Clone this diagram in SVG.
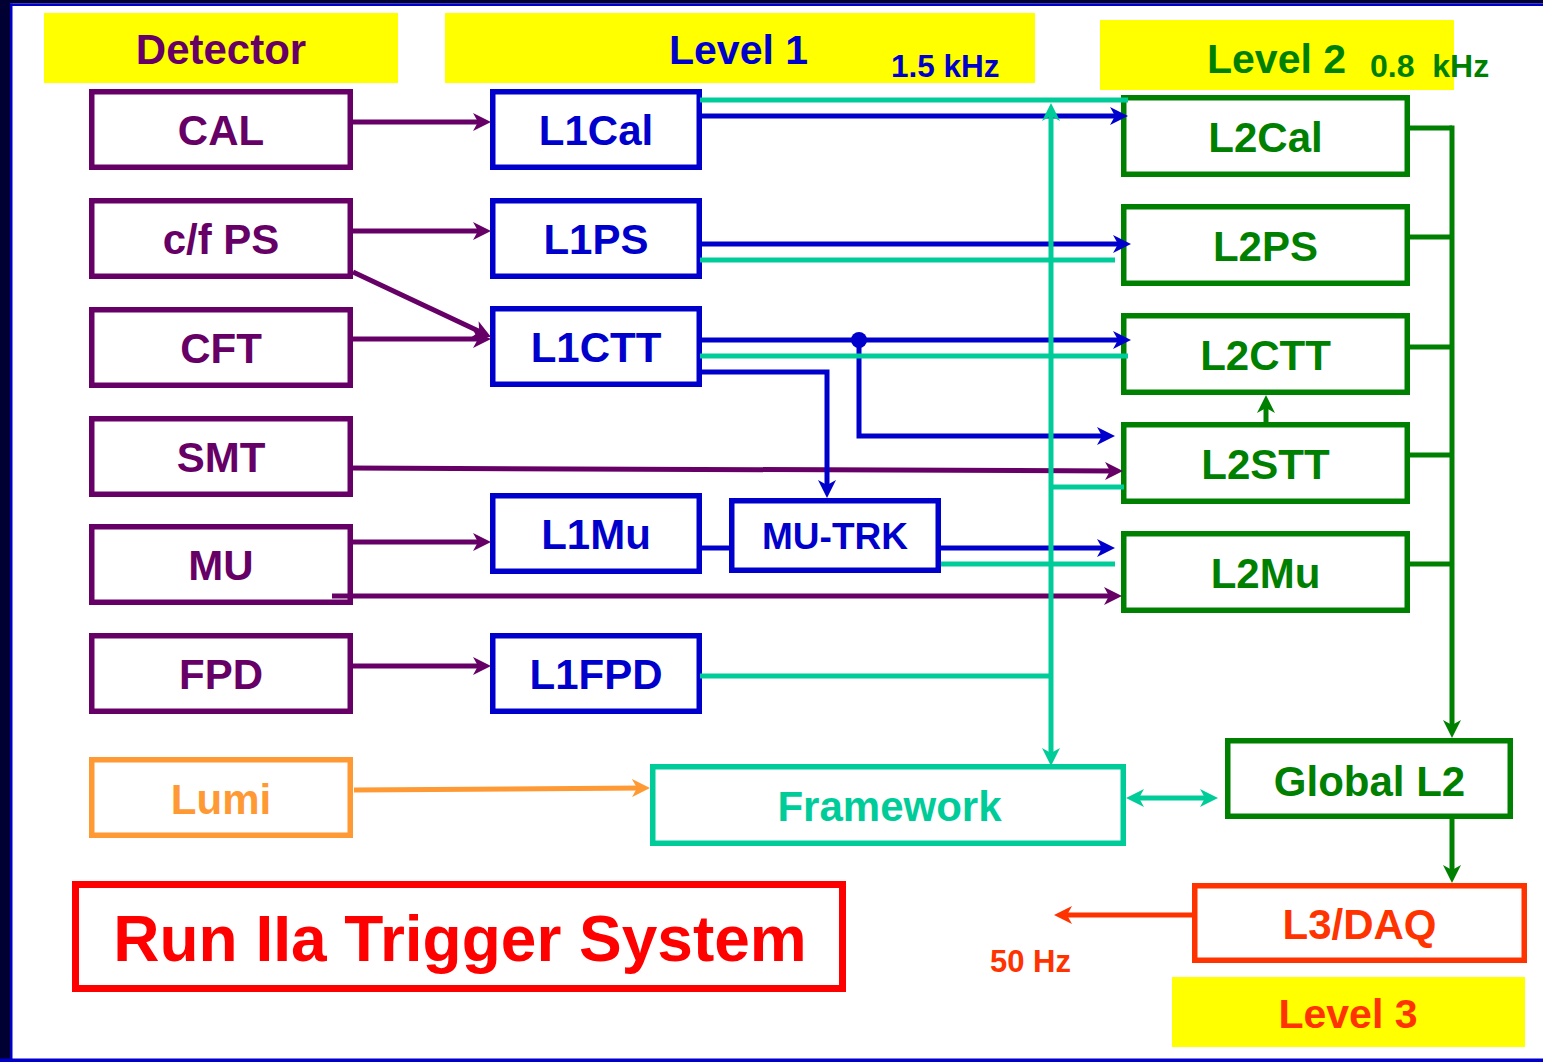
<svg xmlns="http://www.w3.org/2000/svg" width="1543" height="1062" viewBox="0 0 1543 1062">
  <style>
    text { font-family: "Liberation Sans", Arial, sans-serif; font-weight: bold; }
    .node rect { fill: #ffffff; stroke-width: 5.5; }
    .lbl { font-size: 42px; text-anchor: middle; }
    .det rect { stroke: #660066; } .det text { fill: #660066; }
    .l1 rect { stroke: #0000cc; } .l1 text { fill: #0000cc; }
    .l2 rect { stroke: #008000; } .l2 text { fill: #008000; }
    .fw rect { stroke: #00cc99; } .fw text { fill: #00cc99; }
    .lumi rect { stroke: #ff9933; } .lumi text { fill: #ff9933; }
    .l3 rect { stroke: #ff3300; } .l3 text { fill: #ff3300; }
    .band { fill: #ffff00; }
    .conn path { fill: none; stroke-width: 5; }
    .p { stroke: #660066; } .b { stroke: #0000cc; } .c { stroke: #00cc99; }
    .g { stroke: #008000; } .o { stroke: #ff9933; } .r { stroke: #ff3300; }
  </style>
  <defs>
    <marker id="ap" viewBox="0 0 18 18" refX="10" refY="9" markerWidth="18" markerHeight="18" markerUnits="userSpaceOnUse" orient="auto-start-reverse"><path d="M0,0 L18,9 L0,18 L5,9 Z" fill="#660066"/></marker>
    <marker id="ab" viewBox="0 0 18 18" refX="10" refY="9" markerWidth="18" markerHeight="18" markerUnits="userSpaceOnUse" orient="auto-start-reverse"><path d="M0,0 L18,9 L0,18 L5,9 Z" fill="#0000cc"/></marker>
    <marker id="ac" viewBox="0 0 18 18" refX="10" refY="9" markerWidth="18" markerHeight="18" markerUnits="userSpaceOnUse" orient="auto-start-reverse"><path d="M0,0 L18,9 L0,18 L5,9 Z" fill="#00cc99"/></marker>
    <marker id="ag" viewBox="0 0 18 18" refX="10" refY="9" markerWidth="18" markerHeight="18" markerUnits="userSpaceOnUse" orient="auto-start-reverse"><path d="M0,0 L18,9 L0,18 L5,9 Z" fill="#008000"/></marker>
    <marker id="ao" viewBox="0 0 18 18" refX="10" refY="9" markerWidth="18" markerHeight="18" markerUnits="userSpaceOnUse" orient="auto-start-reverse"><path d="M0,0 L18,9 L0,18 L5,9 Z" fill="#ff9933"/></marker>
    <marker id="ar" viewBox="0 0 18 18" refX="10" refY="9" markerWidth="18" markerHeight="18" markerUnits="userSpaceOnUse" orient="auto-start-reverse"><path d="M0,0 L18,9 L0,18 L5,9 Z" fill="#ff3300"/></marker>
  </defs>

  <!-- page and frame -->
  <rect x="0" y="0" width="1543" height="1062" fill="#ffffff"/>
  <rect x="0" y="0" width="1543" height="3.5" fill="#000033"/>
  <rect x="0" y="3.5" width="1543" height="2.5" fill="#0000cc"/>
  <rect x="0" y="0" width="10" height="1062" fill="#000033"/>
  <rect x="10" y="3.5" width="2.5" height="1058.5" fill="#0000cc"/>
  <rect x="0" y="1058.5" width="1543" height="3.5" fill="#0000cc"/>

  <!-- level headers -->
  <g id="hdr-detector">
    <rect class="band" x="44" y="13" width="354" height="70"/>
    <text x="221" y="64" font-size="42" text-anchor="middle" fill="#660066">Detector</text>
  </g>
  <g id="hdr-level1">
    <rect class="band" x="445" y="13" width="590" height="70"/>
    <text x="669" y="64" font-size="41" fill="#0000cc">Level 1</text>
    <text x="891" y="77" font-size="31.5" fill="#0000cc">1.5 kHz</text>
  </g>
  <g id="hdr-level2">
    <rect class="band" x="1100" y="20" width="354" height="70"/>
    <text x="1207" y="73" font-size="41" fill="#008000">Level 2</text>
    <text x="1370" y="77" font-size="32" fill="#008000" xml:space="preserve">0.8  kHz</text>
  </g>
  <g id="hdr-level3">
    <rect class="band" x="1172" y="977" width="353" height="70"/>
    <text x="1348" y="1028" font-size="41" text-anchor="middle" fill="#ff3300">Level 3</text>
  </g>

  <!-- detector systems -->
  <g id="cal" class="node det"><rect x="91.75" y="91.75" width="258.5" height="75.5"/><text class="lbl" x="221" y="145">CAL</text></g>
  <g id="cfps" class="node det"><rect x="91.75" y="200.75" width="258.5" height="75.5"/><text class="lbl" x="221" y="254">c/f PS</text></g>
  <g id="cft" class="node det"><rect x="91.75" y="309.75" width="258.5" height="75.5"/><text class="lbl" x="221" y="363">CFT</text></g>
  <g id="smt" class="node det"><rect x="91.75" y="418.75" width="258.5" height="75.5"/><text class="lbl" x="221" y="472">SMT</text></g>
  <g id="mu" class="node det"><rect x="91.75" y="526.75" width="258.5" height="75.5"/><text class="lbl" x="221" y="580">MU</text></g>
  <g id="fpd" class="node det"><rect x="91.75" y="635.75" width="258.5" height="75.5"/><text class="lbl" x="221" y="689">FPD</text></g>
  <g id="lumi" class="node lumi"><rect x="91.75" y="759.75" width="258.5" height="75.5"/><text class="lbl" x="221" y="814">Lumi</text></g>

  <!-- level 1 -->
  <g id="l1cal" class="node l1"><rect x="492.75" y="91.75" width="206.5" height="75.5"/><text class="lbl" x="596" y="145">L1Cal</text></g>
  <g id="l1ps" class="node l1"><rect x="492.75" y="200.75" width="206.5" height="75.5"/><text class="lbl" x="596" y="254">L1PS</text></g>
  <g id="l1ctt" class="node l1"><rect x="492.75" y="308.75" width="206.5" height="75.5"/><text class="lbl" x="596" y="362">L1CTT</text></g>
  <g id="l1mu" class="node l1"><rect x="492.75" y="495.75" width="206.5" height="75.5"/><text class="lbl" x="596" y="549">L1Mu</text></g>
  <g id="l1fpd" class="node l1"><rect x="492.75" y="635.75" width="206.5" height="75.5"/><text class="lbl" x="596" y="689">L1FPD</text></g>
  <g id="mutrk" class="node l1"><rect x="731.75" y="500.75" width="206.5" height="69.5"/><text class="lbl" x="835" y="549" style="font-size:37px">MU-TRK</text></g>

  <!-- level 2 -->
  <g id="l2cal" class="node l2"><rect x="1123.75" y="97.75" width="283.5" height="76.5"/><text class="lbl" x="1265.5" y="152">L2Cal</text></g>
  <g id="l2ps" class="node l2"><rect x="1123.75" y="206.75" width="283.5" height="76.5"/><text class="lbl" x="1265.5" y="261">L2PS</text></g>
  <g id="l2ctt" class="node l2"><rect x="1123.75" y="315.75" width="283.5" height="76.5"/><text class="lbl" x="1265.5" y="370">L2CTT</text></g>
  <g id="l2stt" class="node l2"><rect x="1123.75" y="424.75" width="283.5" height="76.5"/><text class="lbl" x="1265.5" y="479">L2STT</text></g>
  <g id="l2mu" class="node l2"><rect x="1123.75" y="533.75" width="283.5" height="76.5"/><text class="lbl" x="1265.5" y="588">L2Mu</text></g>
  <g id="globall2" class="node l2"><rect x="1227.75" y="740.75" width="282.5" height="75.5"/><text class="lbl" x="1369.5" y="796">Global L2</text></g>

  <!-- framework and level 3 -->
  <g id="framework" class="node fw"><rect x="652.75" y="766.75" width="470.5" height="76.5"/><text class="lbl" x="889.5" y="821">Framework</text></g>
  <g id="l3daq" class="node l3"><rect x="1194.75" y="885.75" width="329.5" height="74.5"/><text class="lbl" x="1359.5" y="939">L3/DAQ</text></g>
  <text x="1071" y="972" font-size="31" text-anchor="end" fill="#ff3300">50 Hz</text>

  <!-- connectors, drawn over the box outlines -->
  <g id="connectors" class="conn">
    <!-- detector outputs -->
    <path class="p" d="M353,122 H483" marker-end="url(#ap)"/>
    <path class="p" d="M353,231 H483" marker-end="url(#ap)"/>
    <path class="p" d="M353,272 L483.8,333.6" marker-end="url(#ap)"/>
    <path class="p" d="M353,339 H483" marker-end="url(#ap)"/>
    <path class="p" d="M348,468 L1115,471" marker-end="url(#ap)"/>
    <path class="p" d="M353,542 H483" marker-end="url(#ap)"/>
    <path class="p" d="M332,596 H1114" marker-end="url(#ap)"/>
    <path class="p" d="M353,666 H483" marker-end="url(#ap)"/>

    <!-- level 1 data to level 2 -->
    <path class="b" d="M702,116 H1120" marker-end="url(#ab)"/>
    <path class="b" d="M702,244 H1123" marker-end="url(#ab)"/>
    <path class="b" d="M702,340 H1123" marker-end="url(#ab)"/>
    <path class="b" d="M859,340 V436 H1107" marker-end="url(#ab)"/>
    <path class="b" d="M702,372 H827 V490" marker-end="url(#ab)"/>
    <path class="b" d="M702,548 H729"/>
    <path class="b" d="M941,548 H1107" marker-end="url(#ab)"/>

    <!-- level 1 decisions to framework -->
    <path class="c" d="M700,100 H1128"/>
    <path class="c" d="M700,260 H1115"/>
    <path class="c" d="M700,356 H1128"/>
    <path class="c" d="M1051,487 H1124"/>
    <path class="c" d="M941,564 H1115"/>
    <path class="c" d="M700,676 H1051"/>
    <path class="c" d="M1051,111 V758" marker-start="url(#ac)" marker-end="url(#ac)"/>
    <path class="c" d="M1134,798 H1210" marker-start="url(#ac)" marker-end="url(#ac)"/>

    <!-- level 2 preprocessors to global L2 -->
    <path class="g" d="M1410,128 H1452 M1410,237 H1452 M1410,347 H1452 M1410,455 H1452 M1410,564 H1452"/>
    <path class="g" d="M1452,125.5 V730" marker-end="url(#ag)"/>
    <path class="g" d="M1452,819 V875" marker-end="url(#ag)"/>
    <path class="g" d="M1266,422 V403" marker-end="url(#ag)"/>

    <path class="o" d="M354,790 L642,788" marker-end="url(#ao)"/>
    <path class="r" d="M1192,915 H1062" marker-end="url(#ar)"/>
    <circle cx="859" cy="340" r="8" fill="#0000cc"/>
  </g>

  <!-- title -->
  <g id="title">
    <rect x="75.5" y="884.5" width="767" height="104" fill="#ffffff" stroke="#ff0000" stroke-width="7"/>
    <text x="460" y="961" font-size="64" text-anchor="middle" fill="#ff0000">Run IIa Trigger System</text>
  </g>
</svg>
